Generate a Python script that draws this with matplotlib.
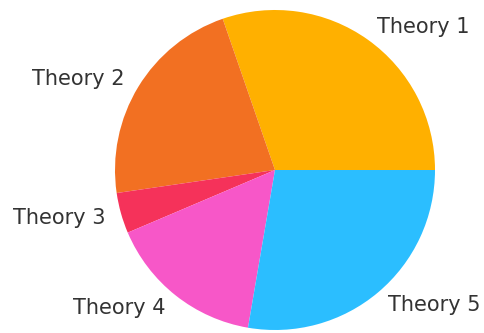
import matplotlib
matplotlib.use("Agg")
import matplotlib.pyplot as plt

# shares of each theory
labels = ["Theory 1", "Theory 2", "Theory 3", "Theory 4", "Theory 5"]
shares = [30.3, 22.0, 4.1, 15.9, 27.7]
colors = ["#FFB000", "#F27022", "#F5325A", "#F757C8", "#2BBEFF"]

fig = plt.figure(figsize=(4.85, 3.33), dpi=100)
ax = fig.add_axes([0, 0, 1, 1])

ax.pie(shares, labels=labels, colors=colors, startangle=0,
       textprops={"fontsize": 15, "color": "#333333"})

# 1 data unit = 160 px, centre at (275, 170) from top-left
ax.set_xlim(-275 / 160, (485 - 275) / 160)
ax.set_ylim(-163 / 160, 170 / 160)
ax.set_aspect("auto")
ax.axis("off")

fig.savefig("out.png", dpi=100)
